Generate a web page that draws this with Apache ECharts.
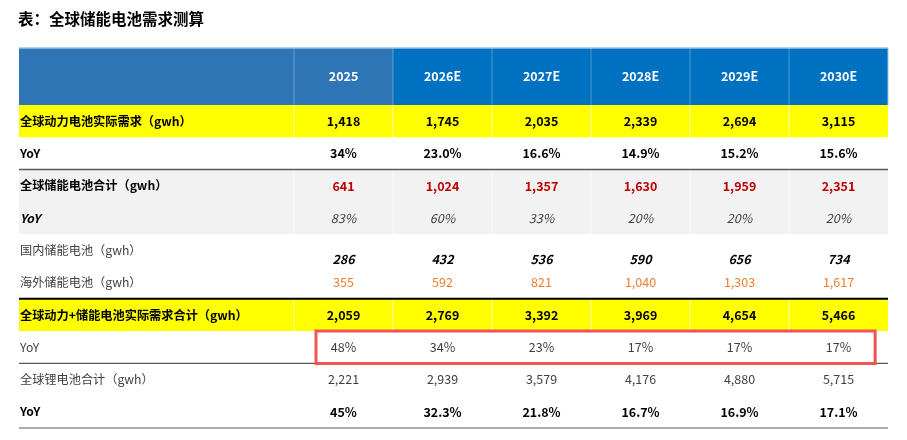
<!DOCTYPE html>
<html>
<head>
<meta charset="utf-8">
<script src="https://cdn.jsdelivr.net/npm/echarts@6/dist/echarts.min.js"></script>
<style>
  html, body { margin: 0; padding: 0; background: #fff; }
  #main { width: 907px; height: 440px; }
</style>
</head>
<body>
<div id="main"></div>
<script>
// table data
const years = ['2025', '2026E', '2027E', '2028E', '2029E', '2030E'];
const rowNames = [
    '全球动力电池实际需求（gwh）',
    'YoY',
    '全球储能电池合计（gwh）',
    'YoY',
    '国内储能电池（gwh）',
    '海外储能电池（gwh）',
    '全球动力+储能电池实际需求合计（gwh）',
    'YoY',
    '全球锂电池合计（gwh）',
    'YoY'
];
const powerDemand = [1418, 1745, 2035, 2339, 2694, 3115];
const powerYoY = ['34%', '23.0%', '16.6%', '14.9%', '15.2%', '15.6%'];
const storageTotal = [641, 1024, 1357, 1630, 1959, 2351];
const storageYoY = ['83%', '60%', '33%', '20%', '20%', '20%'];
const domesticStorage = [286, 432, 536, 590, 656, 734];
const overseasStorage = [355, 592, 821, 1040, 1303, 1617];
const combinedDemand = [2059, 2769, 3392, 3969, 4654, 5466];
const combinedYoY = ['48%', '34%', '23%', '17%', '17%', '17%'];
const lithiumTotal = [2221, 2939, 3579, 4176, 4880, 5715];
const lithiumYoY = ['45%', '32.3%', '21.8%', '16.7%', '16.9%', '17.1%'];

const rowValues = [powerDemand, powerYoY, storageTotal, storageYoY, domesticStorage,
    overseasStorage, combinedDemand, combinedYoY, lithiumTotal, lithiumYoY];

// layout in axis units: data columns are 0..6, label column sits left of 0
const LABEL_X = -2.778;
const HEAD_TOP = -1.765;
const FONT = '"Noto Sans CJK SC", sans-serif';

const rowStyles = [
    { bg: '#FFFF00', lw: 'bold', lc: '#000', vw: 'bold', vc: '#000' },
    { bg: null, lw: 'bold', lc: '#000', vw: 'bold', vc: '#000' },
    { bg: '#F2F2F2', lw: 'bold', lc: '#000', vw: 'bold', vc: '#C00000' },
    { bg: '#F2F2F2', lw: 'bold', lc: '#000', ls: 'italic', vw: 'normal', vc: '#404040', vs: 'italic' },
    { bg: null, lw: 'normal', lc: '#404040', vw: 'bold', vc: '#000', vs: 'italic', vdy: 0.29 },
    { bg: null, lw: 'normal', lc: '#404040', vw: 'normal', vc: '#ED7D31' },
    { bg: '#FFFF00', lw: 'bold', lc: '#000', vw: 'bold', vc: '#000' },
    { bg: null, lw: 'normal', lc: '#404040', vw: 'normal', vc: '#404040' },
    { bg: null, lw: 'normal', lc: '#404040', vw: 'normal', vc: '#404040' },
    { bg: null, lw: 'bold', lc: '#000', vw: 'bold', vc: '#000' }
];

function fmt(v) {
    return typeof v === 'number' ? v.toLocaleString('en-US') : v;
}

// fills: [x0, x1, y0, y1]
const fillData = [];
const fillColors = [];
fillData.push([LABEL_X, 1, HEAD_TOP, 0]); fillColors.push('#2E75B6');
fillData.push([1, 6, HEAD_TOP, 0]); fillColors.push('#0070C0');
rowStyles.forEach((s, r) => {
    if (s.bg) { fillData.push([LABEL_X, 6, r, r + 1]); fillColors.push(s.bg); }
});

// rules: [x0, x1, y0, y1]
const ruleData = [];
const ruleStyles = [];
ruleData.push([LABEL_X, 6, HEAD_TOP, HEAD_TOP]); ruleStyles.push({ stroke: '#9DC3E6', lineWidth: 1.5 });
ruleData.push([6, 6, HEAD_TOP, 0]); ruleStyles.push({ stroke: '#9DC3E6', lineWidth: 1 });
for (let c = 0; c < 6; c++) {
    ruleData.push([c, c, HEAD_TOP, 0]); ruleStyles.push({ stroke: 'rgba(255,255,255,0.3)', lineWidth: 1 });
    rowStyles.forEach((s, r) => {
        if (s.bg) { ruleData.push([c, c, r, r + 1]); ruleStyles.push({ stroke: 'rgba(255,255,255,0.7)', lineWidth: 1 }); }
    });
}
ruleData.push([LABEL_X, 6, 2, 2]); ruleStyles.push({ stroke: '#595959', lineWidth: 1.5 });
ruleData.push([LABEL_X, 6, 6, 6]); ruleStyles.push({ stroke: '#000', lineWidth: 2 });
ruleData.push([LABEL_X, 6, 8, 8]); ruleStyles.push({ stroke: '#595959', lineWidth: 1.2 });
ruleData.push([LABEL_X, 6, 10, 10]); ruleStyles.push({ stroke: '#595959', lineWidth: 1.2 });

// text cells: [x, y, row, col]  (row -1 = header, col -1 = label column)
const textData = [];
years.forEach((y, c) => textData.push([c + 0.5, HEAD_TOP / 2, -1, c]));
rowNames.forEach((name, r) => {
    textData.push([LABEL_X, r + 0.5, r, -1]);
    rowValues[r].forEach((v, c) => textData.push([c + 0.5, r + 0.5 + (rowStyles[r].vdy || 0), r, c]));
});

const chart = echarts.init(document.getElementById('main'));

const option = {
    animation: false,
    title: {
        text: '表：全球储能电池需求测算',
        left: 13,
        top: 6,
        textStyle: { fontFamily: FONT, fontSize: 15.5, fontWeight: 'bold', color: '#000' }
    },
    grid: { left: 19, right: 19, top: 48, bottom: 12 },
    xAxis: { type: 'value', min: LABEL_X, max: 6, show: false },
    yAxis: { type: 'value', min: HEAD_TOP, max: 10, inverse: true, show: false },
    series: [
        {
            type: 'custom',
            data: fillData,
            silent: true,
            renderItem: function (params, api) {
                const p0 = api.coord([api.value(0), api.value(2)]);
                const p1 = api.coord([api.value(1), api.value(3)]);
                return {
                    type: 'rect',
                    shape: { x: p0[0], y: p0[1], width: p1[0] - p0[0], height: p1[1] - p0[1] },
                    style: { fill: fillColors[params.dataIndex] }
                };
            }
        },
        {
            type: 'custom',
            data: ruleData,
            silent: true,
            renderItem: function (params, api) {
                const p0 = api.coord([api.value(0), api.value(2)]);
                const p1 = api.coord([api.value(1), api.value(3)]);
                return {
                    type: 'line',
                    shape: { x1: p0[0], y1: p0[1], x2: p1[0], y2: p1[1] },
                    style: ruleStyles[params.dataIndex]
                };
            }
        },
        {
            type: 'custom',
            data: textData,
            silent: true,
            renderItem: function (params, api) {
                const p = api.coord([api.value(0), api.value(1)]);
                const r = api.value(2), c = api.value(3);
                let text, fill, weight, fstyle, align, size = 12.5;
                if (r === -1) {
                    text = years[c]; fill = '#fff'; weight = 'bold'; fstyle = 'normal'; align = 'center';
                } else if (c === -1) {
                    const s = rowStyles[r];
                    text = rowNames[r]; fill = s.lc; weight = s.lw; fstyle = s.ls || 'normal'; align = 'left';
                    size = 12.2;
                } else {
                    const s = rowStyles[r];
                    text = fmt(rowValues[r][c]); fill = s.vc; weight = s.vw; fstyle = s.vs || 'normal'; align = 'center';
                }
                return {
                    type: 'text',
                    x: p[0] + (c === -1 && r >= 0 ? 1 : 0),
                    y: p[1],
                    style: {
                        text: text,
                        fill: fill,
                        fontSize: size,
                        fontFamily: FONT,
                        fontWeight: weight,
                        fontStyle: fstyle,
                        align: align,
                        verticalAlign: 'middle'
                    }
                };
            }
        },
        {
            // highlight box around the combined YoY row
            type: 'custom',
            data: [[0.222, 5.87, 7, 8]],
            silent: true,
            renderItem: function (params, api) {
                const p0 = api.coord([api.value(0), api.value(2)]);
                const p1 = api.coord([api.value(1), api.value(3)]);
                return {
                    type: 'rect',
                    shape: { x: p0[0], y: p0[1], width: p1[0] - p0[0], height: p1[1] - p0[1] },
                    style: { fill: 'none', stroke: '#F05454', lineWidth: 3 }
                };
            }
        }
    ]
};

chart.setOption(option);
</script>
</body>
</html>
